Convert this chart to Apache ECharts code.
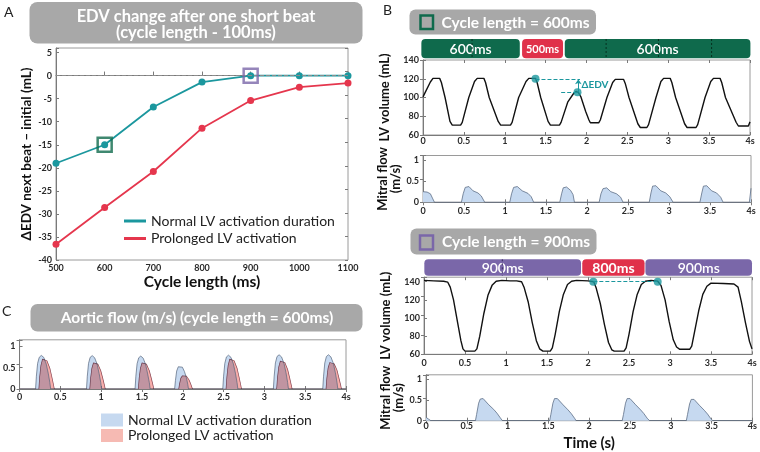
<!DOCTYPE html>
<html>
<head>
<meta charset="utf-8">
<script src="https://cdn.jsdelivr.net/npm/echarts@6/dist/echarts.min.js"></script>
<style>
  html, body { margin: 0; padding: 0; background: #fff; }
  #chart { width: 760px; height: 452px; }
</style>
</head>
<body>
<div id="chart"></div>
<script>
// ---- panel A: EDV change vs cycle length
const cycleLengths = [500, 600, 700, 800, 900, 1000, 1100]
const edvNormal = [-19, -15, -6.8, -1.4, 0, 0, 0]
const edvProlonged = [-36.6, -28.6, -20.8, -11.4, -5.4, -2.5, -1.6]
const highlighted = [[600, -15], [900, 0]]

// ---- panel B: LV volume / mitral flow, [time s, value]
const lv600 = [
  [0, 100.7], [0.03, 106], [0.09, 116.5], [0.122, 120.4], [0.204, 120.4],
  [0.225, 116], [0.27, 100], [0.33, 74.5], [0.358, 70.5], [0.46, 70.5],
  [0.48, 73.5], [0.56, 100], [0.63, 117], [0.663, 120.4], [0.745, 120.4],
  [0.765, 116], [0.81, 100], [0.92, 74.5], [0.95, 70.5], [1.07, 70.5],
  [1.09, 73.5], [1.17, 100], [1.26, 117], [1.294, 120.4], [1.376, 120.4],
  [1.396, 116], [1.44, 100], [1.53, 74.5], [1.559, 70.5], [1.669, 70.5],
  [1.689, 73.5], [1.77, 95], [1.84, 104], [1.87, 106.5], [1.9, 105.5],
  [1.93, 101], [1.99, 85], [2.03, 76], [2.047, 73], [2.149, 73],
  [2.169, 76], [2.25, 100], [2.32, 116], [2.352, 119.3], [2.454, 119.3],
  [2.474, 115], [2.52, 100], [2.628, 72], [2.658, 68], [2.739, 68],
  [2.759, 71], [2.85, 100], [2.91, 117], [2.943, 120.4], [3.024, 120.4],
  [3.044, 116], [3.09, 100], [3.2, 72], [3.23, 68], [3.34, 68],
  [3.36, 71], [3.45, 100], [3.52, 117], [3.553, 120.4], [3.634, 120.4],
  [3.654, 116], [3.7, 100], [3.83, 73.6], [3.858, 69.6], [3.98, 69.6], [4.0, 74]
]
const edvDots600 = [[1.376, 120], [1.89, 105.5]]

const mitral600 = [
  [0, 0.25], [0.05, 0.24], [0.09, 0.2], [0.12, 0.08], [0.14, 0], [0.468, 0],
  [0.49, 0.2], [0.515, 0.35], [0.537, 0.395], [0.56, 0.37], [0.61, 0.27], [0.67, 0.22], [0.71, 0.15], [0.753, 0],
  [1.058, 0], [1.08, 0.2], [1.105, 0.35], [1.127, 0.395], [1.15, 0.37], [1.21, 0.27], [1.28, 0.21], [1.32, 0.13], [1.35, 0],
  [1.668, 0], [1.69, 0.2], [1.71, 0.34], [1.73, 0.38], [1.75, 0.36], [1.8, 0.28], [1.83, 0.18], [1.847, 0],
  [2.148, 0], [2.17, 0.2], [2.195, 0.32], [2.218, 0.36], [2.24, 0.34], [2.29, 0.25], [2.36, 0.2], [2.41, 0.12], [2.44, 0],
  [2.759, 0], [2.78, 0.22], [2.8, 0.38], [2.816, 0.42], [2.84, 0.39], [2.9, 0.27], [2.96, 0.22], [3.01, 0.13], [3.05, 0],
  [3.377, 0], [3.4, 0.22], [3.42, 0.38], [3.44, 0.42], [3.46, 0.39], [3.52, 0.27], [3.58, 0.22], [3.63, 0.12], [3.66, 0],
  [3.98, 0], [4.0, 0.33]
]

const lv900 = [
  [0, 141.5], [0.12, 141], [0.24, 140.5], [0.29, 139.5], [0.32, 134], [0.36, 120], [0.41, 95], [0.45, 75],
  [0.475, 66], [0.5, 63.5], [0.62, 63.5], [0.645, 66], [0.68, 80], [0.73, 105], [0.78, 125], [0.83, 136],
  [0.88, 140.5], [0.95, 141.5], [1.05, 141], [1.13, 141], [1.19, 140], [1.22, 134], [1.27, 118], [1.32, 95],
  [1.37, 75], [1.41, 66], [1.45, 63.5], [1.54, 63.5], [1.565, 67], [1.6, 82], [1.65, 107], [1.7, 126],
  [1.75, 137], [1.8, 140.5], [1.86, 141.5], [2.0, 141], [2.07, 140], [2.1, 133], [2.15, 116], [2.2, 93],
  [2.25, 73], [2.29, 65], [2.32, 63.5], [2.44, 63.5], [2.465, 67], [2.5, 82], [2.55, 107], [2.6, 126],
  [2.65, 137], [2.7, 140.5], [2.77, 141.5], [2.85, 140.5], [2.89, 136], [2.94, 120], [2.99, 96], [3.04, 76],
  [3.08, 68], [3.12, 65.5], [3.24, 65.5], [3.265, 69], [3.3, 85], [3.35, 108], [3.4, 126], [3.45, 135],
  [3.5, 138.5], [3.65, 138], [3.78, 137.5], [3.83, 134], [3.87, 118], [3.92, 95], [3.97, 74], [4.0, 66]
]
const edvDots900 = [[2.065, 140], [2.85, 140]]

const mitral900 = [
  [0, 0.08], [0.03, 0.04], [0.06, 0], [0.606, 0],
  [0.62, 0.15], [0.645, 0.42], [0.665, 0.52], [0.68, 0.55], [0.7, 0.53], [0.77, 0.38], [0.83, 0.27], [0.87, 0.18], [0.91, 0.07], [0.937, 0],
  [1.515, 0], [1.53, 0.15], [1.555, 0.42], [1.575, 0.53], [1.59, 0.55], [1.61, 0.53], [1.68, 0.38], [1.74, 0.26], [1.78, 0.17], [1.82, 0.06], [1.84, 0],
  [2.404, 0], [2.42, 0.15], [2.445, 0.42], [2.465, 0.53], [2.48, 0.55], [2.5, 0.53], [2.57, 0.38], [2.63, 0.26], [2.67, 0.17], [2.71, 0.06], [2.74, 0],
  [3.19, 0], [3.205, 0.15], [3.23, 0.4], [3.25, 0.51], [3.265, 0.53], [3.285, 0.51], [3.35, 0.37], [3.41, 0.25], [3.45, 0.16], [3.49, 0.05], [3.515, 0],
  [4.0, 0]
]

// cycle bars above the volume traces
const segStart600 = [-0.02, 1.212, 1.734]
const segEnd600 = [1.184, 1.713, 4.005]
const segLabel600 = ['600ms', '500ms', '600ms']
const segShort600 = [0, 1, 0]
const beatMarks600 = [0.6, 2.24, 2.88, 3.53]

const segStart900 = [0.004, 1.93, 2.7]
const segEnd900 = [1.915, 2.69, 4.0]
const segLabel900 = ['900ms', '800ms', '900ms']
const segShort900 = [0, 1, 0]
const beatMarks900 = [0.955]

// ---- panel C: aortic flow
const aorticNormal = [
  [0, 0], [0.196, 0], [0.206, 0.3], [0.221, 0.6], [0.241, 0.74], [0.266, 0.785], [0.296, 0.74], [0.326, 0.59], [0.351, 0.37], [0.371, 0.15], [0.381, 0],
  [0.82, 0], [0.83, 0.3], [0.845, 0.6], [0.865, 0.74], [0.89, 0.78], [0.92, 0.73], [0.95, 0.58], [0.975, 0.36], [0.995, 0.15], [1.005, 0],
  [1.415, 0], [1.425, 0.3], [1.44, 0.59], [1.46, 0.73], [1.485, 0.77], [1.515, 0.72], [1.545, 0.57], [1.57, 0.35], [1.59, 0.15], [1.6, 0],
  [1.9, 0], [1.91, 0.2], [1.925, 0.42], [1.945, 0.52], [1.968, 0.55], [1.995, 0.51], [2.02, 0.41], [2.045, 0.26], [2.062, 0.1], [2.07, 0],
  [2.49, 0], [2.5, 0.3], [2.515, 0.6], [2.535, 0.75], [2.56, 0.79], [2.59, 0.74], [2.62, 0.59], [2.645, 0.37], [2.665, 0.15], [2.675, 0],
  [3.11, 0], [3.12, 0.3], [3.135, 0.61], [3.155, 0.76], [3.18, 0.8], [3.21, 0.75], [3.24, 0.6], [3.265, 0.38], [3.285, 0.15], [3.295, 0],
  [3.715, 0], [3.725, 0.3], [3.74, 0.61], [3.76, 0.76], [3.785, 0.8], [3.815, 0.75], [3.845, 0.6], [3.87, 0.38], [3.89, 0.15], [3.9, 0],
  [4, 0]
]
const aorticProlonged = [
  [0, 0], [0.236, 0], [0.246, 0.28], [0.261, 0.55], [0.281, 0.7], [0.301, 0.73], [0.336, 0.66], [0.371, 0.49], [0.396, 0.28], [0.416, 0.1], [0.426, 0],
  [0.86, 0], [0.87, 0.25], [0.885, 0.48], [0.905, 0.61], [0.925, 0.64], [0.96, 0.58], [0.995, 0.43], [1.02, 0.25], [1.04, 0.09], [1.05, 0],
  [1.455, 0], [1.465, 0.25], [1.48, 0.48], [1.5, 0.61], [1.52, 0.64], [1.555, 0.58], [1.59, 0.43], [1.615, 0.25], [1.635, 0.09], [1.645, 0],
  [1.95, 0], [1.96, 0.12], [1.975, 0.25], [1.995, 0.31], [2.015, 0.33], [2.045, 0.3], [2.075, 0.22], [2.095, 0.13], [2.11, 0.05], [2.12, 0],
  [2.53, 0], [2.54, 0.28], [2.555, 0.55], [2.575, 0.7], [2.595, 0.73], [2.63, 0.66], [2.665, 0.49], [2.69, 0.28], [2.71, 0.1], [2.72, 0],
  [3.15, 0], [3.16, 0.26], [3.175, 0.51], [3.195, 0.65], [3.215, 0.68], [3.25, 0.62], [3.285, 0.46], [3.31, 0.26], [3.33, 0.09], [3.34, 0],
  [3.755, 0], [3.765, 0.25], [3.78, 0.49], [3.8, 0.62], [3.82, 0.65], [3.855, 0.59], [3.89, 0.44], [3.915, 0.25], [3.935, 0.09], [3.945, 0],
  [4, 0]
]

const FONT = 'Lato'
const TEAL = '#1b979e'
const RED = '#e5364d'
const GREEN = '#0f6a4c'
const PURPLE = '#7a67a9'
const BAR_RED = '#e0314a'
const BOX_GRAY = '#a8a8a8'
const AXIS = '#7a7a7a'
const TICK = '#2a2a2a'
const BLUE_FILL = '#c6d9f0'
const PINK_FILL = '#f6bab3'

const chart = echarts.init(document.getElementById('chart'))

const tickLabel = (margin, extra) => Object.assign({
  color: TICK, fontSize: 9, fontWeight: 'bold', fontFamily: FONT, margin
}, extra || {})

function timeAxis(gridIndex, margin, name) {
  return {
    type: 'value', gridIndex, min: 0, max: 4, interval: 0.5,
    axisLine: { lineStyle: { color: AXIS } },
    axisTick: { inside: true, length: 3, lineStyle: { color: AXIS } },
    splitLine: { show: false },
    axisLabel: tickLabel(margin, { formatter: v => v === 4 ? '4s' : String(v) }),
    name: name || '', nameLocation: 'middle', nameGap: 15,
    nameTextStyle: { fontFamily: FONT, fontWeight: 'bold', fontSize: 15, color: '#111' },
  }
}
function valueAxis(gridIndex, min, max, interval, name, nameGap) {
  return {
    type: 'value', gridIndex, min, max, interval,
    axisLine: { lineStyle: { color: AXIS } },
    axisTick: { inside: true, length: 3, lineStyle: { color: AXIS } },
    splitLine: { show: false },
    axisLabel: tickLabel(4, { formatter: v => (Math.abs(v / interval - Math.round(v / interval)) < 1e-6 ? String(v) : '') }),
    name, nameLocation: 'middle', nameRotate: 90, nameGap,
    nameTextStyle: { fontFamily: FONT, fontWeight: 'bold', fontSize: 13, color: '#111', lineHeight: 13 },
  }
}
// tick-only copies on the opposite side, like a boxed plot
const mirrorAxis = (gridIndex, position, min, max, interval) => ({
  type: 'value', gridIndex, position, min, max, interval,
  axisLine: { show: false }, axisLabel: { show: false }, splitLine: { show: false },
  axisTick: { inside: true, length: 3, lineStyle: { color: AXIS } },
})
const hiddenAxis = (gridIndex, min, max) => ({
  type: 'value', gridIndex, min, max, show: false, splitLine: { show: false }
})

const gridBox = { show: true, borderColor: '#9a9a9a', borderWidth: 1, containLabel: false }

function segSeries(xi, starts, ends, labels, shorts, longColor, fonts) {
  return {
    type: 'custom', xAxisIndex: xi, yAxisIndex: xi, silent: true, clip: false,
    data: starts.map((s, i) => [s, ends[i], shorts[i]]),
    renderItem: (params, api) => {
      const a = api.coord([api.value(0), 1])
      const b = api.coord([api.value(1), 0])
      const short = api.value(2) === 1
      const i = params.dataIndex
      return {
        type: 'group',
        children: [
          { type: 'rect', shape: { x: a[0], y: a[1], width: b[0] - a[0], height: b[1] - a[1], r: 4 },
            style: { fill: short ? BAR_RED : longColor } },
          { type: 'text', z2: 10,
            style: { text: labels[i], x: (a[0] + b[0]) / 2, y: (a[1] + b[1]) / 2 + 0.5,
              textAlign: 'center', textVerticalAlign: 'middle', fill: '#fff',
              font: (short ? fonts.short : fonts.long) } }
        ]
      }
    }
  }
}
function markSeries(xi, marks, color) {
  return {
    type: 'custom', xAxisIndex: xi, yAxisIndex: xi, silent: true, clip: false, z: 5,
    data: marks.map(t => [t]),
    renderItem: (params, api) => {
      const a = api.coord([api.value(0), 1])
      const b = api.coord([api.value(0), 0])
      return { type: 'line', shape: { x1: a[0], y1: a[1], x2: b[0], y2: b[1] },
        style: { stroke: color, lineWidth: 1, lineDash: [2, 2] } }
    }
  }
}

const edvLines600 = {
  silent: true, symbol: 'none',
  lineStyle: { color: TEAL, type: 'dashed', width: 1 },
  label: { show: false },
  data: [
    [{ coord: edvDots600[0] }, { coord: [edvDots600[1][0] + 0.03, edvDots600[0][1]] }],
    [{ coord: [edvDots600[1][0] - 0.2, edvDots600[1][1]] }, { coord: [edvDots600[1][0] + 0.01, edvDots600[1][1]] }],
    [{ coord: [edvDots600[1][0] + 0.01, edvDots600[1][1]], lineStyle: { type: 'solid' } },
     { coord: [edvDots600[1][0] + 0.01, edvDots600[0][1] - 0.5], symbol: 'arrow', symbolSize: 5 }],
  ]
}

const option = {
  animation: false,
  backgroundColor: '#fff',
  textStyle: { fontFamily: FONT },
  grid: [
    Object.assign({ left: 56, top: 48, width: 292, height: 212 }, gridBox),
    Object.assign({ left: 423, top: 60, width: 327, height: 75 }, gridBox),
    Object.assign({ left: 423, top: 155.5, width: 328, height: 46.8 }, gridBox),
    Object.assign({ left: 424, top: 277.2, width: 328, height: 77.1 }, gridBox),
    Object.assign({ left: 426, top: 374.8, width: 326.5, height: 45.9 }, gridBox),
    Object.assign({ left: 19, top: 339.8, width: 327, height: 49.2 }, gridBox),
    { left: 423, top: 39, width: 327, height: 19.3, show: false },
    { left: 424, top: 259.3, width: 328, height: 16.4, show: false },
  ],
  xAxis: [
    {
      type: 'value', gridIndex: 0, min: 500, max: 1100, interval: 100,
      axisLine: { lineStyle: { color: AXIS } },
      axisTick: { inside: true, length: 3, lineStyle: { color: AXIS } },
      splitLine: { show: false },
      axisLabel: tickLabel(4, { formatter: v => String(v) }),
      name: 'Cycle length (ms)', nameLocation: 'middle', nameGap: 14,
      nameTextStyle: { fontFamily: FONT, fontWeight: 'bold', fontSize: 15.5, color: '#111' },
    },
    timeAxis(1, 2),
    timeAxis(2, 4),
    timeAxis(3, 4),
    timeAxis(4, 1, 'Time (s)'),
    timeAxis(5, 4),
    hiddenAxis(6, 0, 4),
    hiddenAxis(7, 0, 4),
    mirrorAxis(0, 'top', 500, 1100, 100),
    mirrorAxis(1, 'top', 0, 4, 0.5),
    mirrorAxis(2, 'top', 0, 4, 0.5),
    mirrorAxis(3, 'top', 0, 4, 0.5),
    mirrorAxis(4, 'top', 0, 4, 0.5),
    mirrorAxis(5, 'top', 0, 4, 0.5),
  ],
  yAxis: [
    Object.assign(valueAxis(0, -40, 6, 5, 'ΔEDV next beat – initial (mL)', 22),
      { nameTextStyle: { fontFamily: FONT, fontWeight: 'bold', fontSize: 13.5, color: '#111' } }),
    valueAxis(1, 60, 140, 20, 'LV volume (mL)', 32),
    valueAxis(2, 0, 1.1, 0.5, 'Mitral flow\n(m/s)', 14),
    valueAxis(3, 60, 145, 20, 'LV volume (mL)', 32),
    valueAxis(4, 0, 1.1, 0.5, 'Mitral flow\n(m/s)', 14),
    valueAxis(5, 0, 1.15, 0.5, '', 0),
    hiddenAxis(6, 0, 1),
    hiddenAxis(7, 0, 1),
    mirrorAxis(0, 'right', -40, 5, 5),
    mirrorAxis(1, 'right', 60, 140, 20),
    mirrorAxis(2, 'right', 0, 1, 0.5),
    mirrorAxis(3, 'right', 60, 140, 20),
    mirrorAxis(4, 'right', 0, 1, 0.5),
    mirrorAxis(5, 'right', 0, 1, 0.5),
  ],
  legend: [
    {
      data: ['Normal LV activation duration', 'Prolonged LV activation'],
      orient: 'vertical', left: 124, top: 214, icon: 'rect', padding: 0,
      itemWidth: 22, itemHeight: 3, itemGap: 3.5, selectedMode: false,
      textStyle: { fontFamily: FONT, fontSize: 14, color: '#222', lineHeight: 14 },
    },
    {
      data: [
        { name: 'Normal LV activation duration ', itemStyle: { color: BLUE_FILL, borderWidth: 0 } },
        { name: 'Prolonged LV activation ', itemStyle: { color: PINK_FILL, borderWidth: 0 } },
      ],
      orient: 'vertical', left: 101, top: 413, icon: 'rect', padding: 0,
      itemWidth: 22, itemHeight: 13, itemGap: 1.5, selectedMode: false,
      textStyle: { fontFamily: FONT, fontSize: 14, color: '#222', lineHeight: 14 },
    },
  ],
  series: [
    {
      name: 'Normal LV activation duration', type: 'line', xAxisIndex: 0, yAxisIndex: 0,
      data: cycleLengths.map((c, i) => [c, edvNormal[i]]),
      symbol: 'circle', symbolSize: 7, color: TEAL, lineStyle: { width: 1.8 }, z: 4,
      markLine: {
        silent: true, symbol: 'none', label: { show: false },
        lineStyle: { color: '#8c8c8c', type: 'dashed', width: 1 },
        data: [{ yAxis: 0 }],
      },
    },
    {
      name: 'Prolonged LV activation', type: 'line', xAxisIndex: 0, yAxisIndex: 0,
      data: cycleLengths.map((c, i) => [c, edvProlonged[i]]),
      symbol: 'circle', symbolSize: 7, color: RED, lineStyle: { width: 1.8 }, z: 3,
    },
    {
      type: 'scatter', xAxisIndex: 0, yAxisIndex: 0, z: 6, symbol: 'rect', symbolSize: 14,
      data: highlighted.map((p, i) => ({
        value: p,
        itemStyle: { color: 'rgba(255,255,255,0)', borderColor: i === 0 ? GREEN : PURPLE, borderWidth: 2.5 },
      })),
    },
    // B top
    {
      type: 'line', xAxisIndex: 1, yAxisIndex: 1, data: lv600, showSymbol: false,
      lineStyle: { color: '#111', width: 1.4 }, color: '#111', markLine: edvLines600,
      markPoint: {
        silent: true, symbol: 'circle', symbolSize: 0,
        label: { show: true, formatter: 'ΔEDV', position: 'right', distance: 4,
          color: TEAL, fontFamily: FONT, fontWeight: 'bold', fontSize: 10 },
        data: [{ coord: [edvDots600[1][0], (edvDots600[0][1] + edvDots600[1][1]) / 2 + 0.5] }],
      },
    },
    {
      type: 'scatter', xAxisIndex: 1, yAxisIndex: 1, data: edvDots600, symbolSize: 8, color: TEAL, z: 6,
    },
    {
      type: 'line', xAxisIndex: 2, yAxisIndex: 2, data: mitral600, showSymbol: false,
      lineStyle: { color: '#5e6f86', width: 0.8 }, areaStyle: { color: BLUE_FILL, opacity: 1 },
    },
    segSeries(6, segStart600, segEnd600, segLabel600, segShort600, GREEN,
      { long: '600 14px Lato', short: 'bold 11px Lato' }),
    markSeries(6, beatMarks600, '#06301f'),
    // B bottom
    {
      type: 'line', xAxisIndex: 3, yAxisIndex: 3, data: lv900, showSymbol: false,
      lineStyle: { color: '#111', width: 1.4 }, color: '#111',
      markLine: {
        silent: true, symbol: 'none', label: { show: false },
        lineStyle: { color: TEAL, type: 'dashed', width: 1 },
        data: [[{ coord: edvDots900[0] }, { coord: edvDots900[1] }]],
      },
    },
    {
      type: 'scatter', xAxisIndex: 3, yAxisIndex: 3, data: edvDots900, symbolSize: 8, color: TEAL, z: 6,
    },
    {
      type: 'line', xAxisIndex: 4, yAxisIndex: 4, data: mitral900, showSymbol: false,
      lineStyle: { color: '#5e6f86', width: 0.8 }, areaStyle: { color: BLUE_FILL, opacity: 1 },
    },
    segSeries(7, segStart900, segEnd900, segLabel900, segShort900, PURPLE,
      { long: '600 14px Lato', short: 'bold 14px Lato' }),
    markSeries(7, beatMarks900, '#3a2a60'),
    // C
    {
      name: 'Normal LV activation duration ', type: 'line', xAxisIndex: 5, yAxisIndex: 5,
      data: aorticNormal, showSymbol: false, color: BLUE_FILL,
      lineStyle: { color: '#56657c', width: 0.7 }, areaStyle: { color: BLUE_FILL, opacity: 1 },
    },
    {
      // multiplied over the blue so the overlap darkens like the original
      name: 'Prolonged LV activation ', type: 'line', xAxisIndex: 5, yAxisIndex: 5,
      data: aorticProlonged, showSymbol: false, color: PINK_FILL, blendMode: 'multiply',
      lineStyle: { color: '#8a5060', width: 0.7 }, areaStyle: { color: '#f7aeab', opacity: 1 },
    },
  ],
  graphic: [
    { type: 'text', left: 4, top: 5, style: { text: 'A', font: '14px Lato', fill: '#222' } },
    { type: 'rect', shape: { x: 29.5, y: 2, width: 333, height: 41.5, r: 8 }, style: { fill: BOX_GRAY } },
    { type: 'text', x: 196, y: 16.5, style: { text: 'EDV change after one short beat', font: 'bold 16.5px Lato', fill: '#fff', textAlign: 'center', textVerticalAlign: 'middle' } },
    { type: 'text', x: 196, y: 32.5, style: { text: '(cycle length - 100ms)', font: 'bold 16.5px Lato', fill: '#fff', textAlign: 'center', textVerticalAlign: 'middle' } },

    { type: 'text', left: 383, top: 3, style: { text: 'B', font: '14px Lato', fill: '#222' } },
    { type: 'rect', shape: { x: 409.5, y: 9.5, width: 186.5, height: 25, r: 6 }, style: { fill: BOX_GRAY } },
    { type: 'rect', shape: { x: 420.5, y: 15.5, width: 12.5, height: 13.5 }, style: { fill: BOX_GRAY, stroke: GREEN, lineWidth: 2.5 } },
    { type: 'text', x: 441.5, y: 22.5, style: { text: 'Cycle length = 600ms', font: 'bold 15.5px Lato', fill: '#fff', textAlign: 'left', textVerticalAlign: 'middle' } },

    { type: 'rect', shape: { x: 410.5, y: 228.5, width: 186, height: 26, r: 6 }, style: { fill: BOX_GRAY } },
    { type: 'rect', shape: { x: 420, y: 235.5, width: 13, height: 14 }, style: { fill: BOX_GRAY, stroke: PURPLE, lineWidth: 2.5 } },
    { type: 'text', x: 442, y: 242, style: { text: 'Cycle length = 900ms', font: 'bold 15.5px Lato', fill: '#fff', textAlign: 'left', textVerticalAlign: 'middle' } },

    { type: 'text', left: 2, top: 304, style: { text: 'C', font: '14px Lato', fill: '#222' } },
    { type: 'rect', shape: { x: 30.5, y: 304, width: 332, height: 27.5, r: 7 }, style: { fill: BOX_GRAY } },
    { type: 'text', x: 197, y: 318, style: { text: 'Aortic flow (m/s) (cycle length = 600ms)', font: 'bold 15.5px Lato', fill: '#fff', textAlign: 'center', textVerticalAlign: 'middle' } },
  ],
}

chart.setOption(option)
</script>
</body>
</html>
